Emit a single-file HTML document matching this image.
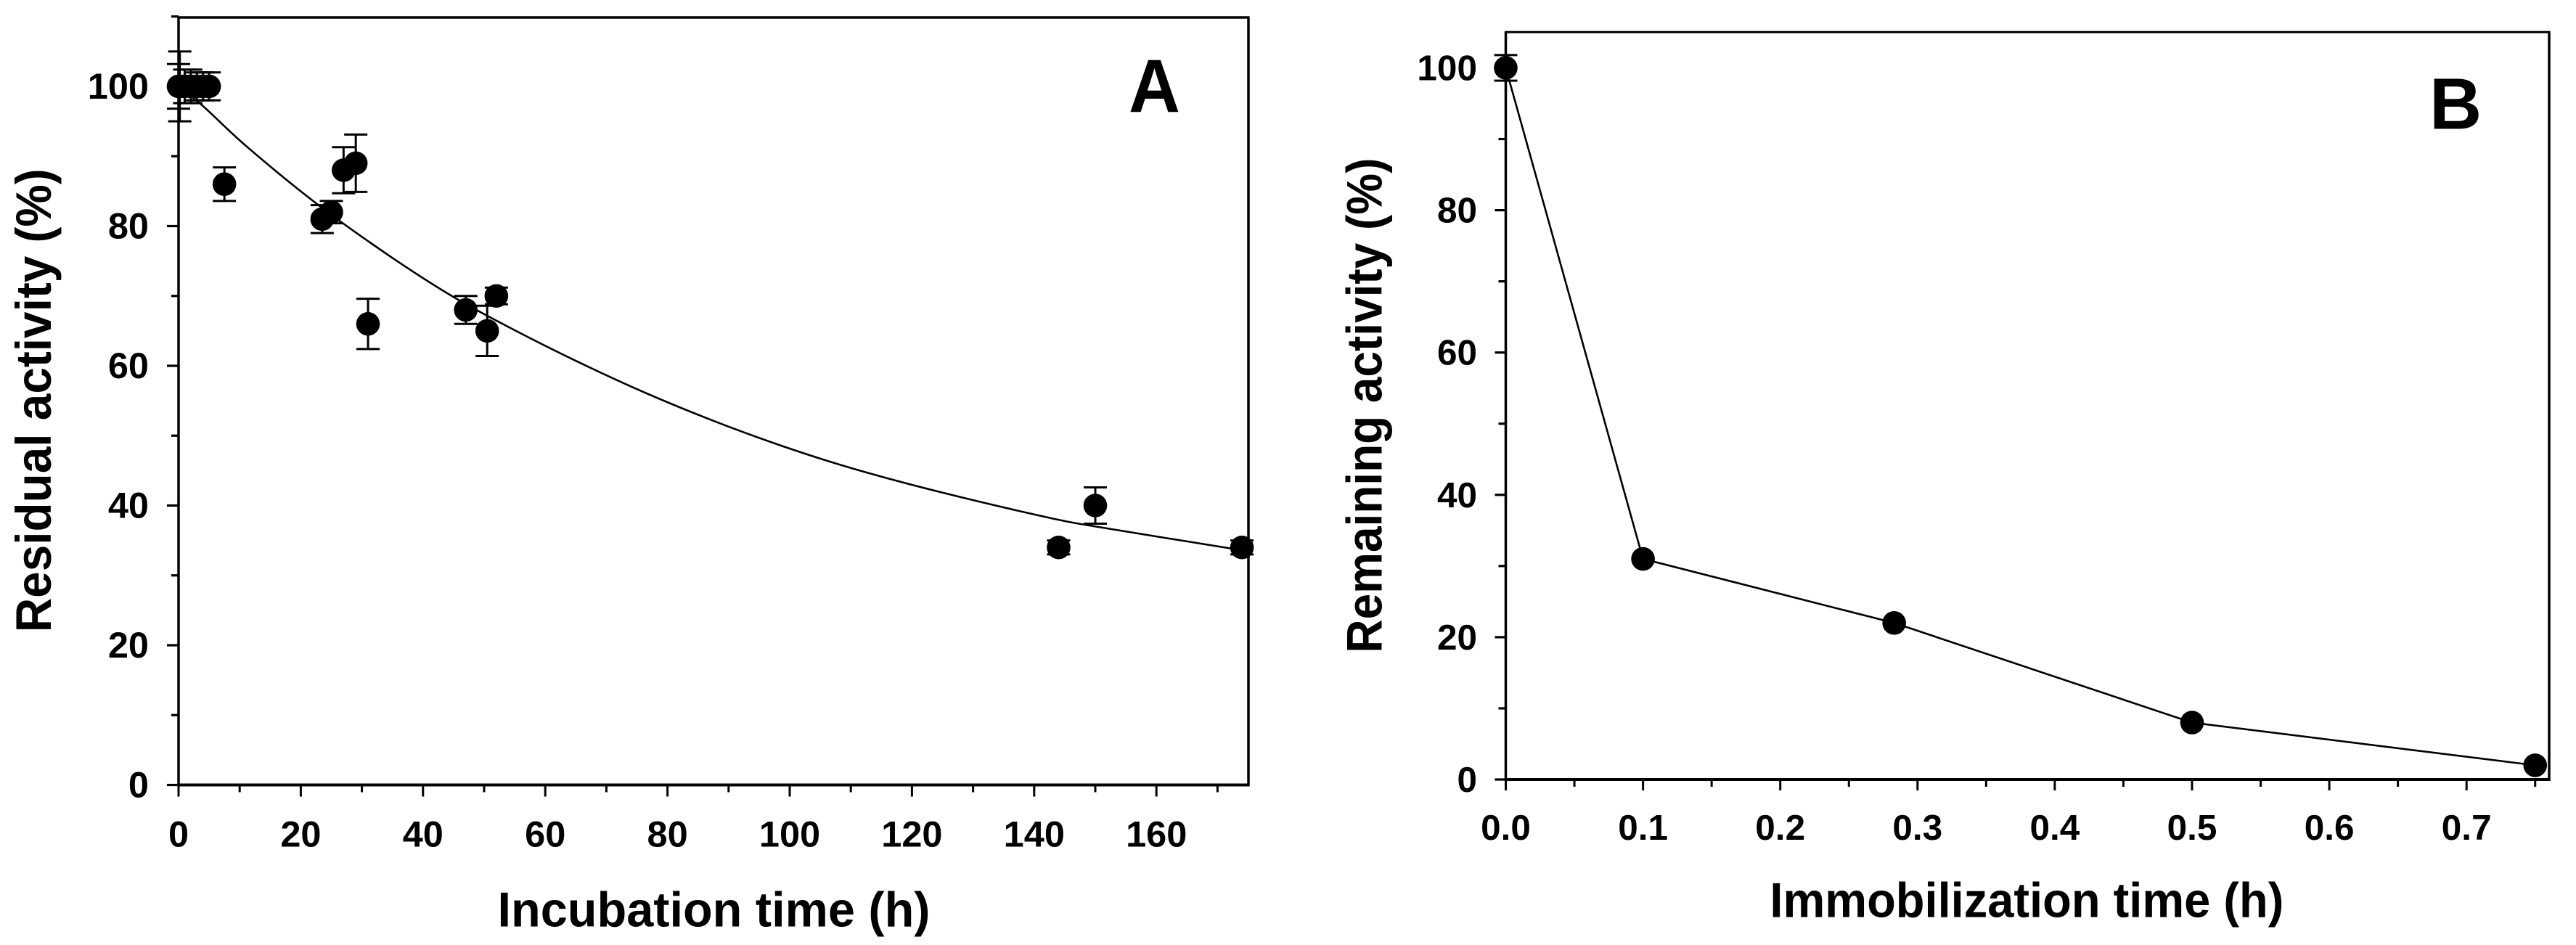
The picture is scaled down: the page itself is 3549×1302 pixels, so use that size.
<!DOCTYPE html>
<html lang="en">
<head>
<meta charset="utf-8">
<title>Residual and remaining activity charts</title>
<style>
html,body{margin:0;padding:0;background:#fff;}
svg{display:block;}
text{font-family:"Liberation Sans",Arial,sans-serif;font-weight:bold;fill:#000;}
</style>
</head>
<body>
<svg id="figure" width="3549" height="1302" viewBox="0 0 3549 1302" xmlns="http://www.w3.org/2000/svg">
<rect x="0" y="0" width="3549" height="1302" fill="#fff"/>
<g id="panelA"></g>
<g id="panelB"></g>
</svg>
<script>
// Panel A data
const aTimes = [0.2, 0, 1, 2, 3, 4, 5, 7.5, 23.5, 25, 27, 29, 31, 47, 50.5, 52, 144, 150, 174];
const aActivity = [100, 100, 100, 100, 100, 100, 100, 86, 81, 82, 88, 89, 66, 68, 65, 70, 34, 40, 34];
const aErrors = [5, 3.2, 2.4, 2.4, 2, 2, 2, 2.4, 2, 1.6, 3.3, 4.1, 3.6, 2, 3.6, 1.2, 1, 2.6, 1];
const aFitTimes = [0, 4.1, 11.4, 22.9, 34.4, 44.7, 53.9, 64.8, 76.2, 87.6, 98.5, 110.3, 125.2, 142.2, 150, 174];
const aFitValues = [100, 97.1, 91.2, 83, 75.8, 70, 65.6, 60.8, 56.2, 52.1, 48.6, 45.3, 41.8, 38.3, 37, 33.6];
const aXTicks = [0, 20, 40, 60, 80, 100, 120, 140, 160];
const aXMinor = [10, 30, 50, 70, 90, 110, 130, 150, 170];
const aYTicks = [0, 20, 40, 60, 80, 100];
const aYMinor = [10, 30, 50, 70, 90, 110];
// Panel B data
const bTimes = [0, 0.1, 0.283, 0.5, 0.75];
const bActivity = [100, 31, 22, 8, 2];
const bErrors = [1.8, 0, 0, 0, 0];
const bXTicks = ["0.0", "0.1", "0.2", "0.3", "0.4", "0.5", "0.6", "0.7"];
const bXMinor = [0.05, 0.15, 0.25, 0.35, 0.45, 0.55, 0.65, 0.75];
const bYTicks = [0, 20, 40, 60, 80, 100];
const bYMinor = [10, 30, 50, 70, 90];

const NS = "http://www.w3.org/2000/svg";
function make(parent, tag, attrs, content) {
  const el = document.createElementNS(NS, tag);
  for (const k in attrs) el.setAttribute(k, attrs[k]);
  if (content !== undefined) el.textContent = content;
  parent.appendChild(el);
  return el;
}
function line(parent, x1, y1, x2, y2, w) {
  return make(parent, "line", { x1: x1, y1: y1, x2: x2, y2: y2, stroke: "#000", "stroke-width": w });
}
function smoothPath(pts) {
  let d = "M" + pts[0][0] + " " + pts[0][1];
  for (let i = 0; i < pts.length - 1; i++) {
    const p0 = pts[Math.max(i - 1, 0)], p1 = pts[i], p2 = pts[i + 1], p3 = pts[Math.min(i + 2, pts.length - 1)];
    d += " C" + (p1[0] + (p2[0] - p0[0]) / 6) + " " + (p1[1] + (p2[1] - p0[1]) / 6) + " " +
      (p2[0] - (p3[0] - p1[0]) / 6) + " " + (p2[1] - (p3[1] - p1[1]) / 6) + " " + p2[0] + " " + p2[1];
  }
  return d;
}

function drawFrame(g, cfg) {
  const frame = make(g, "g", {});
  
  
  line(frame, cfg.left - 1.5, cfg.top, cfg.right + 1.5, cfg.top, cfg.topW);
  line(frame, cfg.left, cfg.top, cfg.left, cfg.bottom, 3.5);
  line(frame, cfg.right, cfg.top, cfg.right, cfg.bottom + 2, 3.5);
  line(frame, cfg.left, cfg.bottom, cfg.right + 1.5, cfg.bottom, 4);
}
function drawXAxis(g, cfg, ticks, minor, labels) {
  const axis = make(g, "g", {});
  
  
  ticks.forEach(function (v, i) {
    const x = cfg.x(v);
    const t = line(axis, x, cfg.bottom, x, cfg.bottom + cfg.major, 3);
    
    
    const lab = make(axis, "text", { x: x, y: cfg.xLabelY, "font-size": cfg.font, "text-anchor": "middle" }, labels[i]);
    
    
  });
  minor.forEach(function (v) {
    const x = cfg.x(v);
    const t = line(axis, x, cfg.bottom, x, cfg.bottom + cfg.minor, 3);
    
    
  });
}
function drawYAxis(g, cfg, ticks, minor) {
  const axis = make(g, "g", {});
  
  
  ticks.forEach(function (v) {
    const y = cfg.y(v);
    const t = line(axis, cfg.left - cfg.major, y, cfg.left, y, 3.2);
    
    
    const lab = make(axis, "text", { x: cfg.yLabelX, y: y + 17, "font-size": cfg.font, "text-anchor": "end" }, String(v));
    
    
  });
  minor.forEach(function (v) {
    const y = cfg.y(v);
    const t = line(axis, cfg.left - cfg.minor, y, cfg.left, y, 3.2);
    
    
  });
}
function drawPoints(g, cfg, xs, ys, errs) {
  const series = make(g, "g", {});
  
  
  xs.forEach(function (v, i) {
    const cx = cfg.x(v), e = errs[i];
    if (e > 0) {
      const bar = make(series, "path", {
        d: "M" + (cx - 16) + " " + cfg.y(ys[i] + e) + "H" + (cx + 16) +
           "M" + (cx - 16) + " " + cfg.y(ys[i] - e) + "H" + (cx + 16) +
           "M" + cx + " " + cfg.y(ys[i] + e) + "V" + cfg.y(ys[i] - e),
        stroke: "#000", "stroke-width": 3, fill: "none"
      });
      
      
    }
  });
  xs.forEach(function (v, i) {
    const c = make(series, "circle", { cx: cfg.x(v), cy: cfg.y(ys[i]), r: 16.3, fill: "#000" });
    
    
  });
}

// Panel A
const gA = document.getElementById("panelA");
const cfgA = {
  left: 246, right: 1720, top: 24, bottom: 1081.5, topW: 3.5, major: 16, minor: 10,
  xLabelY: 1166.5, yLabelX: 205, font: 50.5,
  x: function (v) { return 246 + v * 8.42; },
  y: function (v) { return 1081.5 - v * 9.625; }
};
drawFrame(gA, cfgA);
drawXAxis(gA, cfgA, aXTicks, aXMinor, aXTicks.map(String));
drawYAxis(gA, cfgA, aYTicks, aYMinor);
const fit = make(gA, "path", {
  d: smoothPath(aFitTimes.map(function (t, i) { return [cfgA.x(t), cfgA.y(aFitValues[i])]; })),
  fill: "none", stroke: "#000", "stroke-width": 2.6
});


drawPoints(gA, cfgA, aTimes, aActivity, aErrors);
const aXT = make(gA, "text", { x: 685.5, y: 1276.7, "font-size": 68, textLength: 596, lengthAdjust: "spacingAndGlyphs" }, "Incubation time (h)");


const aYT = make(gA, "text", { x: 0, y: 0, "font-size": 69, textLength: 639, lengthAdjust: "spacingAndGlyphs", transform: "translate(70 871.3) rotate(-90)" }, "Residual activity (%)");


const aLetter = make(gA, "text", { x: 1555, y: 154.3, "font-size": 104, textLength: 71, lengthAdjust: "spacingAndGlyphs" }, "A");



// Panel B
const gB = document.getElementById("panelB");
const cfgB = {
  left: 2074.5, right: 3512, top: 44.3, bottom: 1074, topW: 3, major: 15, minor: 10,
  xLabelY: 1157, yLabelX: 2035, font: 49.5,
  x: function (v) { return 2074.5 + v * 1891; },
  y: function (v) { return 1074 - v * 9.805; }
};
drawFrame(gB, cfgB);
drawXAxis(gB, cfgB, bXTicks.map(Number), bXMinor, bXTicks);
drawYAxis(gB, cfgB, bYTicks, bYMinor);
const conn = make(gB, "polyline", {
  points: bTimes.map(function (t, i) { return cfgB.x(t) + "," + cfgB.y(bActivity[i]); }).join(" "),
  fill: "none", stroke: "#000", "stroke-width": 2.6
});


drawPoints(gB, cfgB, bTimes, bActivity, bErrors);
const bXT = make(gB, "text", { x: 2438.4, y: 1263.3, "font-size": 68, textLength: 708, lengthAdjust: "spacingAndGlyphs" }, "Immobilization time (h)");


const bYT = make(gB, "text", { x: 0, y: 0, "font-size": 69, textLength: 682, lengthAdjust: "spacingAndGlyphs", transform: "translate(1903.3 899.6) rotate(-90)" }, "Remaining activity (%)");


const bLetter = make(gB, "text", { x: 3347, y: 177.3, "font-size": 100 }, "B");


</script>
</body>
</html>
